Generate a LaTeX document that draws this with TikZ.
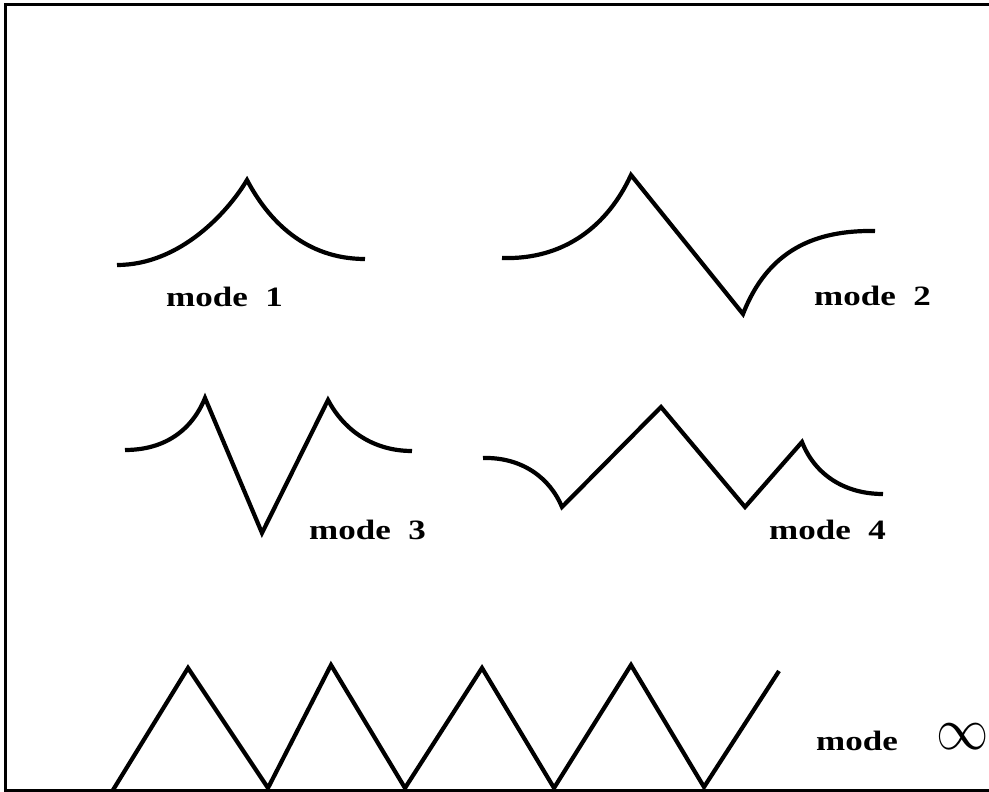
\documentclass[tikz,border=0pt]{standalone}
\usepackage{fontspec}
\setmainfont{Liberation Serif}
\begin{document}
\begin{tikzpicture}[x=1pt,y=-1pt,
  wave/.style={line width=4.2pt,line join=miter,line cap=butt},
  lbl/.style={anchor=base west,inner sep=0pt,font=\fontsize{28}{32}\selectfont\bfseries},
  frame/.style={line width=3pt}]
\useasboundingbox (0,0) rectangle (989,792);
\clip (0,0) rectangle (989,792);
% frame
\draw[frame] (995,5) -- (5,5) -- (5,790) -- (995,790);
% mode 1
\draw[wave] (117,265) .. controls (180,265) and (228,212) .. (247,180)
  .. controls (268,220) and (305,259) .. (365,259);
\node[lbl] (m1) at (166,306) {\scalebox{1.25}[1]{mode\ \ 1}};
% mode 2
\draw[wave] (502,258) .. controls (565,260) and (608,225) .. (631,175)
  -- (743,314) .. controls (768,250) and (815,230) .. (875,231);
\node[lbl] (m2) at (814,305) {\scalebox{1.25}[1]{mode\ \ 2}};
% mode 3
\draw[wave] (125,450) .. controls (165,450) and (192,430) .. (205,398)
  -- (262,533) -- (328,400) .. controls (345,432) and (375,451) .. (412,451);
\node[lbl] (m3) at (309,539) {\scalebox{1.25}[1]{mode\ \ 3}};
% mode 4
\draw[wave] (483,458) .. controls (522,457) and (550,478) .. (562,507)
  -- (661,407) -- (745,507) -- (802,442) .. controls (815,475) and (845,494) .. (883,494);
\node[lbl] (m4) at (769,539) {\scalebox{1.25}[1]{mode\ \ 4}};
% mode infinity
\draw[wave] (113,790) -- (188,668) -- (268,788) -- (331,665) -- (405,788)
  -- (482,668) -- (554,788) -- (631,665) -- (704,787) -- (779,671);
\node[lbl] (mi) at (816,750) {\scalebox{1.25}[1]{mode}};
\node[anchor=west,inner sep=0pt,font=\fontsize{24}{28}\selectfont] (inf) at (936,737) {\scalebox{2.1}[2.4]{$\infty$}};
\end{tikzpicture}
\end{document}
